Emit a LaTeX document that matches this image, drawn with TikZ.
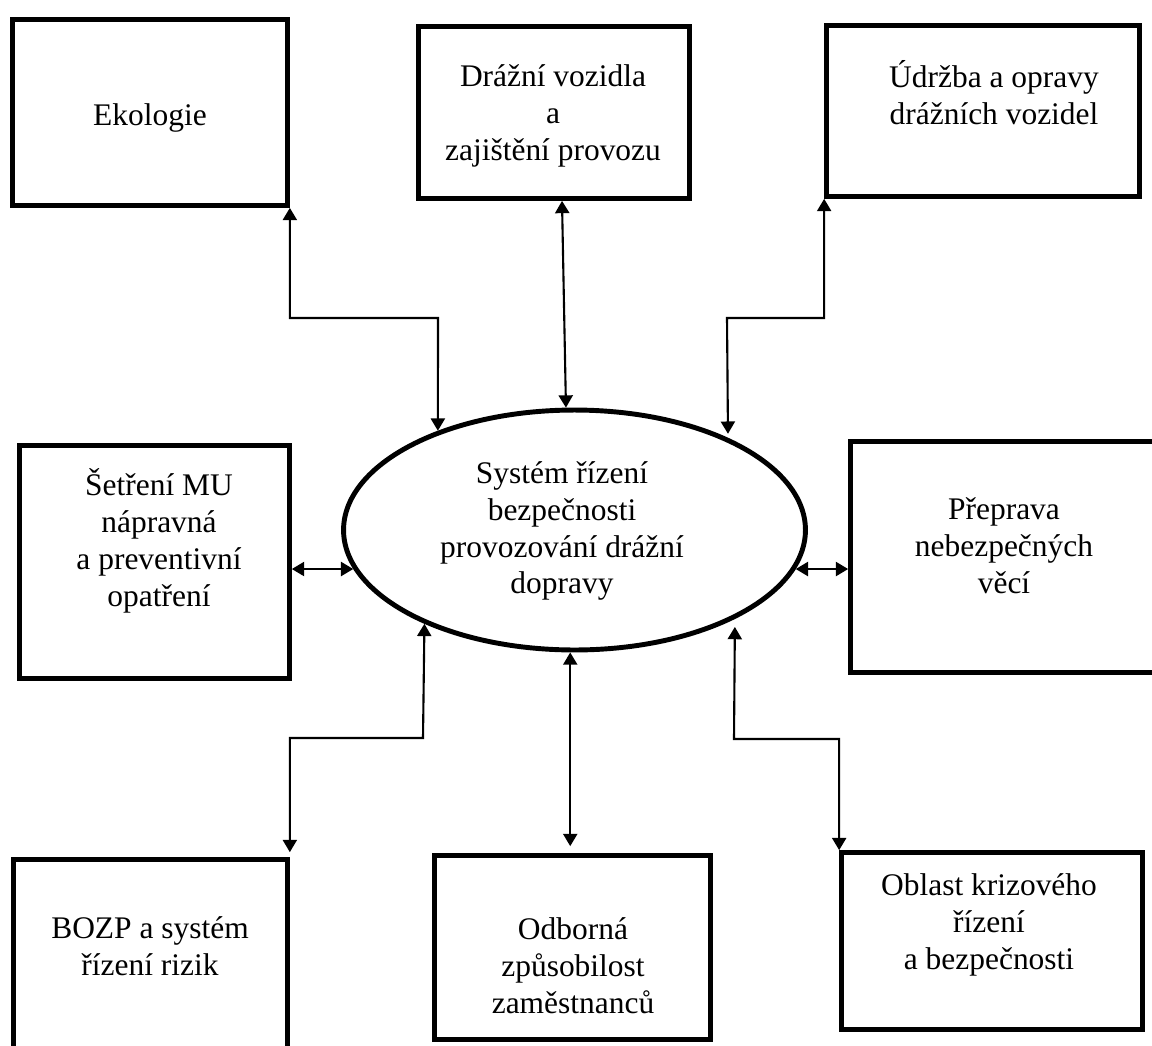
\documentclass[tikz,border=0pt]{standalone}
\usepackage{fontspec}
\setmainfont{Liberation Serif}
\usetikzlibrary{shapes, arrows.meta, positioning, calc}

\begin{document}
\begin{tikzpicture}[x=0.02cm, y=-0.02cm,
   frame/.style={draw, rectangle, line width=2.7pt},
   link/.style={{Triangle[length=7pt,width=8pt]}-{Triangle[length=7pt,width=8pt]}, line width=1.2pt},
   lbl/.style={align=center, font=\fontsize{17.9}{21}\selectfont}]
\useasboundingbox (0,0) rectangle (1152,1045);

% Boxes around the system
\foreach \n/\x/\y/\w/\h in {eko/150/112.5/5.50/3.72, voz/554/112.5/5.42/3.44, udr/983/111/6.26/3.42,
   set/154.5/562/5.40/4.66, pre/1010/557/6.38/4.62,
   bozp/150.5/964.75/5.48/4.21, odb/572.5/947.5/5.52/3.68, obl/992/941/6.02/3.54} {
   \node[frame, minimum width=\w cm, minimum height=\h cm] (\n) at (\x,\y) {};
}

% Central ellipse
\node[draw, ellipse, line width=2.8pt, minimum width=9.24cm, minimum height=4.8cm] (sys) at (574.5,530) {};

% Texts
\foreach \n/\x/\y/\t in {eko/150/118/Ekologie, voz/553/116/{Drážní vozidla\\a\\zajištění provozu},
   udr/994/93/{Údržba a opravy\\drážních vozidel},
   set/159/541/{Šetření MU\\nápravná\\a preventivní\\opatření},
   pre/1004/546/{Přeprava\\nebezpečných\\věcí},
   sys/562/531/{Systém řízení\\bezpečnosti\\provozování drážní\\dopravy},
   bozp/150/946/{BOZP a systém\\řízení rizik},
   odb/573/966/{Odborná\\způsobilost\\zaměstnanců},
   obl/989/925/{Oblast krizového\\řízení\\a bezpečnosti}} {
   \node[lbl] (\n-t) at (\x,\y) {\t};
}

% Bends of the connectors
\coordinate (eko-k) at (438,318);
\coordinate (udr-k) at (727,318);
\coordinate (bozp-k) at (423,738);
\coordinate (obl-k) at (734,739);

% Connectors
\draw[link] (eko.south east) |- (eko-k) -- (sys.144);
\draw[link] ([xshift=0.16cm]voz.south) -- (sys.94);
\draw[link, shorten >=0.08cm] (udr.south west) |- (udr-k) -- (sys.31);
\draw[link] (set.east |- sys.190) -- (sys.190);
\draw[link] (sys.350) -- (sys.350 -| pre.west);
\draw[link, shorten <=0.1cm] (bozp.north east) |- (bozp-k) -- (sys.212);
\draw[link, shorten >=0.14cm] (sys.268) -- (sys.268 |- odb.north);
\draw[link, shorten >=0.16cm] (obl.north west) |- (obl-k) -- (sys.331);
\end{tikzpicture}
\end{document}
